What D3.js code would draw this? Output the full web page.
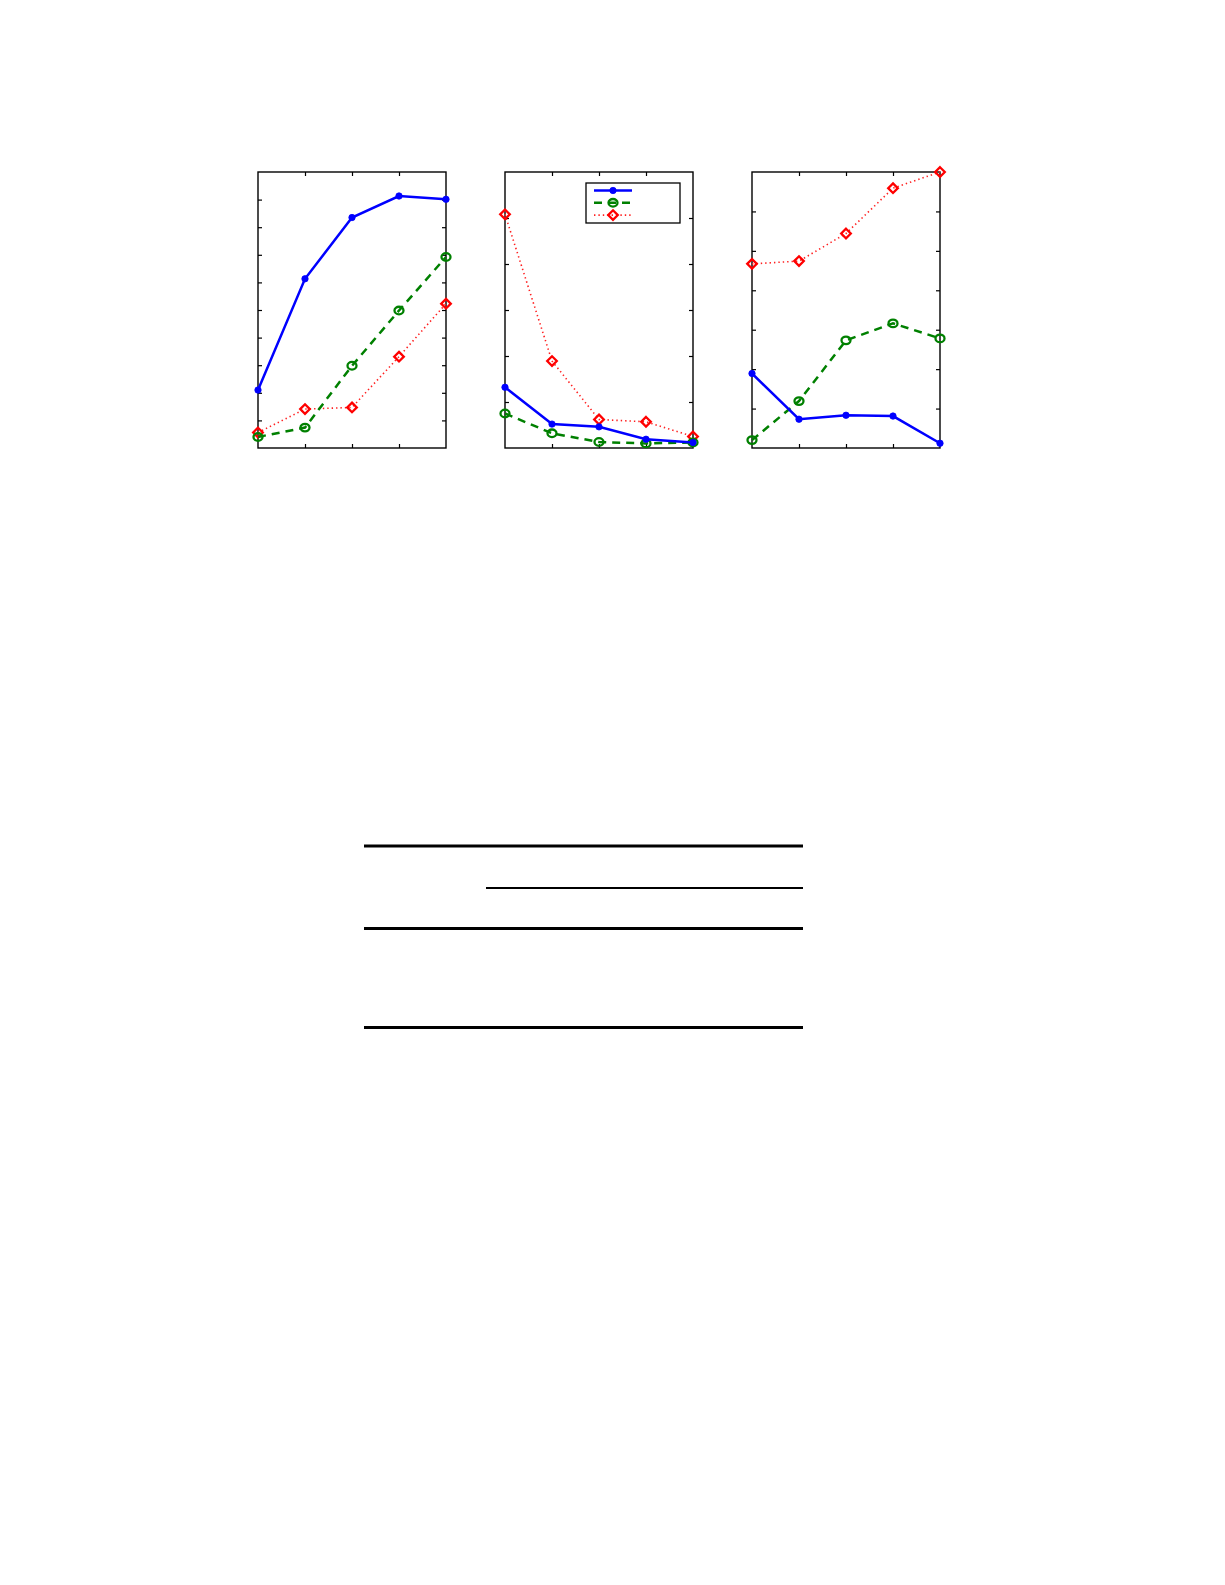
<!DOCTYPE html>
<html>
<head>
<meta charset="utf-8">
<script src="https://cdn.jsdelivr.net/npm/d3@7"></script>
<style>
  body { margin: 0; background: #fff; }
</style>
</head>
<body>
<div id="vis"></div>
<script>
// x positions shared by all three panels
const X_STEPS = [0, 1, 2, 3, 4];

// panel 1 (y from 0 to 10)
const P1_BLUE  = [2.10, 6.13, 8.35, 9.13, 9.01];
const P1_GREEN = [0.40, 0.74, 2.98, 4.98, 6.92];
const P1_RED   = [0.56, 1.41, 1.47, 3.31, 5.23];

// panel 2 (y from 0 to 6)
const P2_BLUE  = [1.32, 0.52, 0.46, 0.19, 0.12];
const P2_GREEN = [0.75, 0.32, 0.13, 0.10, 0.12];
const P2_RED   = [5.08, 1.89, 0.62, 0.57, 0.25];

// panel 3 (y from 0 to 7)
const P3_BLUE  = [1.89, 0.73, 0.83, 0.81, 0.12];
const P3_GREEN = [0.20, 1.19, 2.73, 3.16, 2.78];
const P3_RED   = [4.67, 4.74, 5.44, 6.59, 7.00];

const Y_MAX = [10, 6, 7];

const FRAME_WIDTH = 1225;
const FRAME_HEIGHT = 1585;
const PANEL = {top: 172, width: 188, height: 276, lefts: [258, 505, 752]};

const STYLES = {
  blue:  {color: "#0000ff", width: 2.5, dash: null,  marker: "dot"},
  green: {color: "#008000", width: 2.5, dash: "8,6", marker: "circle"},
  red:   {color: "#ff2020", width: 1.6, dash: "1.4,3", marker: "diamond"}
};

const panels = [
  {blue: P1_BLUE, green: P1_GREEN, red: P1_RED},
  {blue: P2_BLUE, green: P2_GREEN, red: P2_RED},
  {blue: P3_BLUE, green: P3_GREEN, red: P3_RED}
];

const svg = d3.select("#vis")
  .append("svg")
    .attr("width", FRAME_WIDTH)
    .attr("height", FRAME_HEIGHT);

function drawMarker(g, kind, color, x, y) {
  if (kind === "dot") {
    g.append("circle").attr("cx", x).attr("cy", y).attr("r", 3.2)
      .attr("fill", color).attr("stroke", color).attr("stroke-width", 0.8);
  } else if (kind === "circle") {
    g.append("ellipse").attr("cx", x).attr("cy", y).attr("rx", 4.5).attr("ry", 3.8)
      .attr("fill", "none").attr("stroke", color).attr("stroke-width", 2.3);
  } else {
    g.append("path")
      .attr("d", `M${x},${y - 4.8}L${x + 4.8},${y}L${x},${y + 4.8}L${x - 4.8},${y}Z`)
      .attr("fill", "none").attr("stroke", "#ff0000").attr("stroke-width", 2.3);
  }
}

panels.forEach((series, i) => {
  const g = svg.append("g")
    .attr("transform", "translate(" + PANEL.lefts[i] + "," + PANEL.top + ")");

  const X_SCALE = d3.scaleLinear().domain([0, 4]).range([0, PANEL.width]);
  const Y_SCALE = d3.scaleLinear().domain([0, Y_MAX[i]]).range([PANEL.height, 0]);
  const yTicks = d3.range(1, Y_MAX[i]);
  const xTicks = [1, 2, 3];

  // ticks pointing inward on all four sides
  const axes = [
    [d3.axisBottom(X_SCALE).tickValues(xTicks).tickSizeInner(-4), 0, PANEL.height],
    [d3.axisTop(X_SCALE).tickValues(xTicks).tickSizeInner(-4), 0, 0],
    [d3.axisLeft(Y_SCALE).tickValues(yTicks).tickSizeInner(-4), 0, 0],
    [d3.axisRight(Y_SCALE).tickValues(yTicks).tickSizeInner(-4), PANEL.width, 0]
  ];
  axes.forEach(([ax, tx, ty]) => {
    const a = g.append("g")
      .attr("transform", "translate(" + tx + "," + ty + ")")
      .call(ax.tickSizeOuter(0).tickFormat(""));
    a.select(".domain").remove();
    a.selectAll("line").attr("stroke", "#000").attr("stroke-width", 1.2);
  });

  g.append("rect")
    .attr("width", PANEL.width).attr("height", PANEL.height)
    .attr("fill", "none").attr("stroke", "#000").attr("stroke-width", 1.4);

  const line = d3.line()
    .x((d, j) => X_SCALE(X_STEPS[j]))
    .y(d => Y_SCALE(d));

  ["red", "green", "blue"].forEach(key => {
    const st = STYLES[key];
    g.append("path")
      .datum(series[key])
      .attr("d", line)
      .attr("fill", "none")
      .attr("stroke", st.color)
      .attr("stroke-width", st.width)
      .attr("stroke-dasharray", st.dash);
    series[key].forEach((v, j) => drawMarker(g, st.marker, st.color, X_SCALE(X_STEPS[j]), Y_SCALE(v)));
  });

  // legend sits in the middle panel
  if (i === 1) {
    const lg = svg.append("g").attr("transform", "translate(586,183)");
    lg.append("rect").attr("width", 94).attr("height", 40)
      .attr("fill", "#fff").attr("stroke", "#000").attr("stroke-width", 1.3);
    ["blue", "green", "red"].forEach((key, k) => {
      const st = STYLES[key];
      const ly = 7.5 + k * 12.3;
      lg.append("line").attr("x1", 8).attr("x2", 46).attr("y1", ly).attr("y2", ly)
        .attr("stroke", st.color).attr("stroke-width", st.width)
        .attr("stroke-dasharray", st.dash);
      drawMarker(lg, st.marker, st.color, 27, ly);
    });
  }
});

// empty booktabs style table below the plots
const TABLE_RULES = [
  {y: 846,   x1: 364, x2: 803, w: 2.8},
  {y: 888,   x1: 486, x2: 803, w: 2},
  {y: 928.5, x1: 364, x2: 803, w: 2.8},
  {y: 1027.5, x1: 364, x2: 803, w: 2.8}
];
svg.selectAll("line.rule")
  .data(TABLE_RULES)
  .enter()
  .append("line")
    .attr("class", "rule")
    .attr("x1", d => d.x1).attr("x2", d => d.x2)
    .attr("y1", d => d.y).attr("y2", d => d.y)
    .attr("stroke", "#000")
    .attr("stroke-width", d => d.w);
</script>
</body>
</html>
